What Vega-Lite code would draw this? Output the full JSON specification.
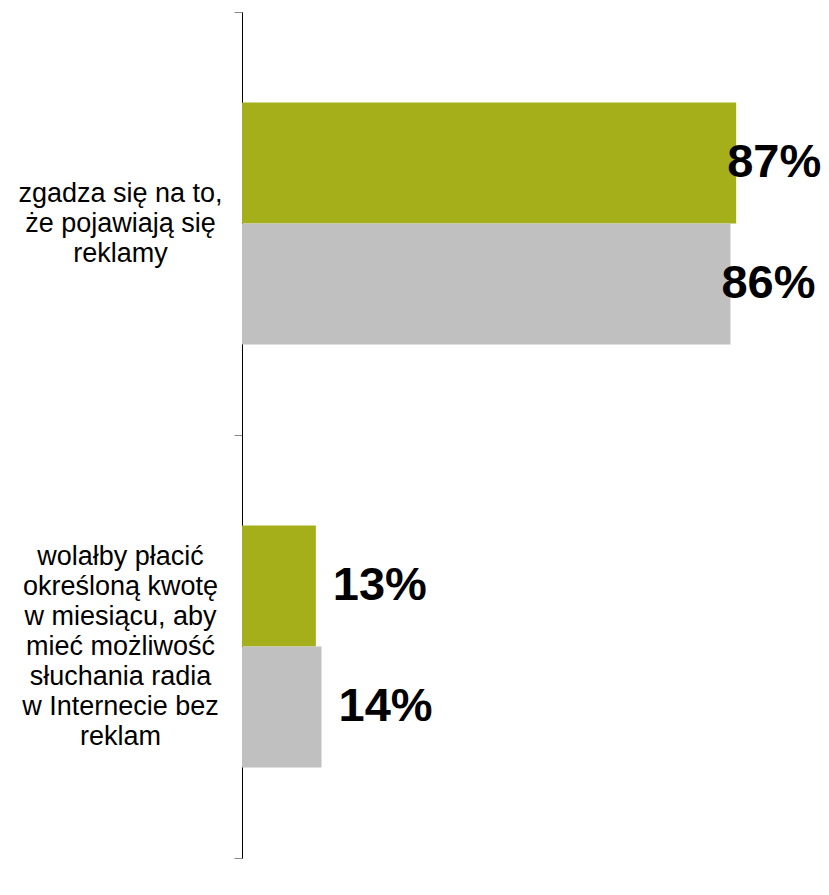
{
  "$schema": "https://vega.github.io/schema/vega-lite/v6.json",
  "width": 568,
  "height": 846,
  "autosize": {"type": "none"},
  "padding": {"left": 242, "top": 12, "right": 19, "bottom": 37},
  "background": "white",
  "config": {"view": {"stroke": null}, "font": "Liberation Sans"},
  "data": {
    "values": [
      {"kategoria": "zgadza się na to,|że pojawiają się|reklamy", "seria": "A", "wartosc": 0.87},
      {"kategoria": "zgadza się na to,|że pojawiają się|reklamy", "seria": "B", "wartosc": 0.86},
      {"kategoria": "wolałby płacić|określoną kwotę|w miesiącu, aby|mieć możliwość|słuchania radia|w Internecie bez|reklam", "seria": "A", "wartosc": 0.13},
      {"kategoria": "wolałby płacić|określoną kwotę|w miesiącu, aby|mieć możliwość|słuchania radia|w Internecie bez|reklam", "seria": "B", "wartosc": 0.14}
    ]
  },
  "encoding": {
    "y": {
      "field": "kategoria",
      "type": "nominal",
      "sort": null,
      "scale": {"paddingInner": 0, "paddingOuter": 0},
      "axis": {
        "title": null,
        "labelExpr": "split(datum.label, '|')",
        "labelAlign": "center",
        "labelBaseline": "middle",
        "labelPadding": 114,
        "labelOffset": {"condition": {"test": "indexof(datum.label, 'wolałby') >= 0", "value": -90}, "value": -30},
        "labelFontSize": 27,
        "labelLineHeight": 30,
        "labelColor": "#000000",
        "labelLimit": 0,
        "tickSize": 8,
        "tickColor": "#888888",
        "domainColor": "#000000",
        "domainWidth": 1,
        "tickBand": "extent",
        "grid": false
      }
    },
    "yOffset": {"field": "seria", "type": "nominal", "sort": ["A", "B"], "scale": {"paddingInner": 0, "paddingOuter": 0.748}},
    "x": {"field": "wartosc", "type": "quantitative", "scale": {"domain": [0, 1]}, "axis": null}
  },
  "layer": [
    {
      "mark": {"type": "bar"},
      "encoding": {
        "color": {
          "field": "seria",
          "type": "nominal",
          "scale": {"domain": ["A", "B"], "range": ["#A4AF1A", "#C0C0C0"]},
          "legend": null
        }
      }
    },
    {
      "transform": [{"filter": "datum.wartosc < 0.5"}],
      "mark": {"type": "text", "align": "left", "baseline": "middle", "dx": 17, "fontSize": 47, "fontWeight": "bold", "color": "#000000"},
      "encoding": {"text": {"field": "wartosc", "type": "quantitative", "format": ".0%"}}
    },
    {
      "transform": [{"filter": "datum.wartosc >= 0.5"}],
      "mark": {"type": "text", "align": "left", "baseline": "middle", "dx": -9, "fontSize": 47, "fontWeight": "bold", "color": "#000000"},
      "encoding": {"text": {"field": "wartosc", "type": "quantitative", "format": ".0%"}}
    }
  ]
}
